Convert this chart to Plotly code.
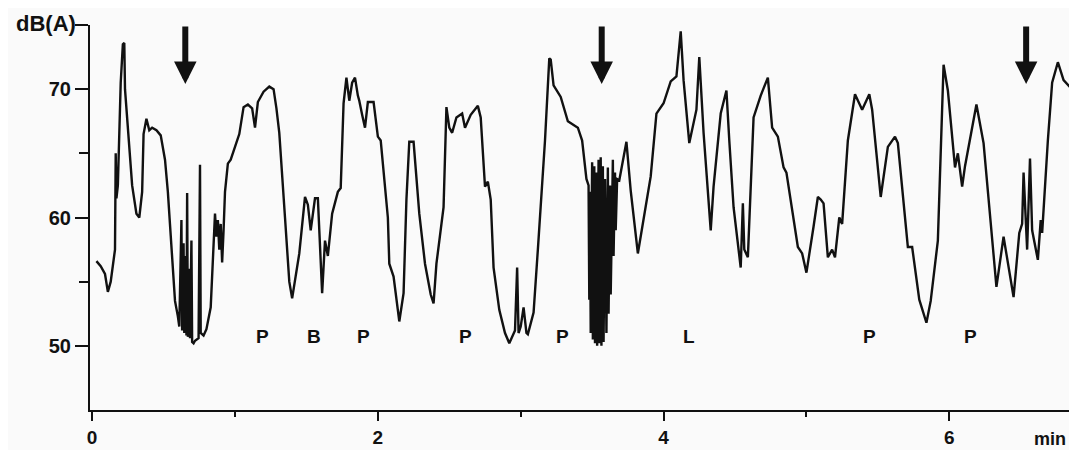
import plotly.graph_objects as go

# --- data (time in minutes, level in dB(A)) ---
time_min = [
    0.03, 0.06, 0.09, 0.11, 0.13, 0.16, 0.165, 0.17, 0.18, 0.20, 0.215, 0.225, 0.23, 0.25, 0.28,
    0.31, 0.33, 0.35, 0.36, 0.38, 0.40, 0.42, 0.45, 0.48, 0.51, 0.53, 0.56, 0.58, 0.60,
    0.61, 0.625, 0.63, 0.64, 0.645, 0.655, 0.66, 0.665, 0.67, 0.68, 0.685, 0.695, 0.70, 0.71,
    0.72, 0.745, 0.755, 0.76, 0.78, 0.80, 0.83, 0.86, 0.87, 0.88, 0.89, 0.90, 0.91, 0.92, 0.93,
    0.95, 0.97, 1.00, 1.03, 1.06, 1.09, 1.12, 1.14, 1.16, 1.20, 1.24, 1.27, 1.29, 1.31, 1.35,
    1.38, 1.40, 1.45, 1.49, 1.51, 1.53, 1.56, 1.58, 1.61, 1.63, 1.65, 1.68, 1.72, 1.74, 1.76,
    1.78, 1.80, 1.82, 1.84, 1.86, 1.87, 1.89, 1.91, 1.93, 1.97, 2.00, 2.02, 2.07, 2.08, 2.11,
    2.15, 2.18, 2.20, 2.22, 2.25, 2.29, 2.33, 2.37, 2.39, 2.41, 2.46, 2.48, 2.50, 2.52, 2.55,
    2.59, 2.61, 2.65, 2.70, 2.72, 2.75, 2.77, 2.79, 2.81, 2.85, 2.89, 2.92, 2.96, 2.975, 2.985,
    3.00, 3.02, 3.04, 3.05, 3.09, 3.12, 3.17, 3.20, 3.21, 3.23, 3.28, 3.33, 3.40, 3.43, 3.46,
    3.475, 3.48, 3.485, 3.49, 3.50, 3.505, 3.515, 3.52, 3.53, 3.535, 3.545, 3.55, 3.56, 3.565,
    3.575, 3.58, 3.59, 3.60, 3.61, 3.615, 3.625, 3.63, 3.645, 3.65, 3.66, 3.665, 3.675, 3.69,
    3.74, 3.77, 3.82, 3.86, 3.91, 3.95, 4.00, 4.05, 4.09, 4.12, 4.14, 4.18, 4.23, 4.25, 4.28,
    4.33, 4.35, 4.40, 4.44, 4.46, 4.49, 4.54, 4.555, 4.565, 4.59, 4.63, 4.68, 4.73, 4.76, 4.80,
    4.84, 4.86, 4.94, 4.97, 5.00, 5.05, 5.08, 5.10, 5.12, 5.15, 5.18, 5.20, 5.23, 5.25, 5.29,
    5.34, 5.39, 5.44, 5.46, 5.52, 5.57, 5.62, 5.64, 5.71, 5.74, 5.79, 5.84, 5.87, 5.92, 5.96,
    5.99, 6.04, 6.06, 6.09, 6.11, 6.19, 6.24, 6.33, 6.38, 6.45, 6.49, 6.51, 6.52, 6.545, 6.565,
    6.58, 6.62, 6.64, 6.65, 6.69, 6.72, 6.76, 6.80, 6.85,
]
level_db = [
    56.6, 56.2, 55.6, 54.2, 55.0, 57.5, 65.0, 61.5, 62.5, 70.5, 73.5, 73.6, 70.0, 67.0, 62.5,
    60.3, 60.0, 62.0, 66.5, 67.7, 66.8, 67.0, 66.8, 66.4, 64.5, 62.0, 57.0, 53.5, 52.3,
    51.5, 59.8, 51.2, 58.0, 51.0, 57.0, 50.8, 61.9, 50.7, 56.0, 50.6, 58.2, 50.3, 50.2,
    50.4, 50.6, 64.1, 51.0, 50.8, 51.3, 53.0, 60.3, 58.5, 59.8, 57.5, 59.5, 56.5, 59.0, 62.0,
    64.2, 64.5, 65.5, 66.5, 68.6, 68.8, 68.5, 67.0, 69.0, 69.8, 70.2, 70.0, 68.5, 66.6, 60.0,
    55.0, 53.7, 57.2, 61.6, 61.0, 59.0, 61.5, 61.5, 54.1, 58.2, 57.0, 60.3, 62.0, 62.3, 68.9,
    70.9, 69.1, 70.5, 70.9, 69.5, 69.1, 68.0, 67.0, 69.0, 69.0, 66.3, 66.0, 60.0, 56.4, 55.4,
    51.9, 54.1, 61.4, 65.9, 65.9, 60.3, 56.4, 54.0, 53.3, 56.4, 60.8, 68.6, 67.0, 66.6, 67.8,
    68.1, 67.0, 68.0, 68.7, 67.8, 62.4, 62.8, 61.4, 56.1, 52.8, 51.0, 50.2, 51.2, 56.1, 51.0,
    51.5, 53.0, 51.0, 50.9, 52.6, 57.5, 66.0, 72.4, 72.3, 70.3, 69.4, 67.5, 67.0, 66.0, 63.0,
    62.5, 53.6, 62.0, 51.0, 64.3, 50.5, 64.0, 50.2, 63.5, 50.0, 64.5, 50.2, 64.7, 50.0,
    64.0, 50.3, 63.0, 51.0, 63.9, 52.5, 62.5, 54.0, 64.5, 57.0, 63.5, 59.0, 63.0, 62.9,
    65.9, 62.1, 57.2, 60.0, 63.2, 68.1, 68.9, 70.6, 71.0, 74.5, 70.7, 65.8, 68.4, 72.5, 66.6,
    59.0, 62.4, 68.1, 69.9, 66.0, 60.8, 56.1, 61.1, 57.5, 56.9, 67.8, 69.5, 70.9, 67.0, 66.3,
    63.9, 63.5, 57.7, 57.2, 55.7, 59.3, 61.6, 61.4, 61.1, 56.9, 57.5, 56.9, 60.0, 59.5, 66.0,
    69.6, 68.4, 69.6, 68.4, 61.6, 65.5, 66.3, 65.8, 57.7, 57.7, 53.6, 51.8, 53.5, 58.2, 71.9,
    69.9, 63.9, 65.0, 62.4, 64.0, 68.8, 65.8, 54.6, 58.5, 53.8, 58.8, 59.5, 63.5, 57.5, 64.6,
    59.0, 56.7, 59.8, 58.8, 66.0, 70.5, 72.1, 70.7, 70.1,
]

label_text = ["P", "B", "P", "P", "P", "L", "P", "P"]
label_time = [1.19, 1.55, 1.90, 2.61, 3.29, 4.18, 5.44, 6.15]
label_level = 50.7

arrow_time = [0.652, 3.567, 6.538]
arrow_tip_db = 70.4
arrow_top_db = 75.0

x_major = [0, 2, 4, 6]
x_minor = [1, 3, 5]
y_major = [50, 60, 70, 75]
y_major_text = ["50", "60", "70", ""]
y_minor = [55, 65]
y_unit = "dB(A)"
x_unit = "min"

FONT = "Liberation Sans"
INK = "#111111"

fig = go.Figure()
fig.add_trace(go.Scatter(
    x=time_min, y=level_db, mode="lines",
    line=dict(color=INK, width=2.4),
    hoverinfo="skip", showlegend=False,
))

annotations = []
for t, s in zip(label_time, label_text):
    annotations.append(dict(
        x=t, y=label_level, xref="x", yref="y", text=s, showarrow=False,
        font=dict(family=FONT, size=19, color=INK, weight="bold"),
    ))
for t in arrow_time:
    annotations.append(dict(
        x=t, y=arrow_tip_db, xref="x", yref="y",
        ax=t, ay=arrow_top_db, axref="x", ayref="y",
        showarrow=True, arrowhead=2, arrowsize=0.75, arrowwidth=6,
        arrowcolor=INK, text="",
    ))
# unit labels
annotations.append(dict(
    x=0, y=75, xref="paper", yref="y", xanchor="right", yanchor="middle",
    xshift=-12, yshift=2, text=y_unit, showarrow=False,
    font=dict(family=FONT, size=22, color=INK, weight="bold"),
))
annotations.append(dict(
    x=1.0, y=0, xref="paper", yref="paper", xanchor="right", yanchor="top",
    xshift=-7, yshift=-17, text=x_unit, showarrow=False,
    font=dict(family=FONT, size=18, color=INK, weight="bold"),
))

# page body has an 8px default margin: size the figure so it fits the 1077x450 window
fig.update_layout(
    width=1069, height=442,
    margin=dict(l=82, r=2, t=17, b=40),
    paper_bgcolor="#fafafa", plot_bgcolor="#fafafa",
    annotations=annotations,
    xaxis=dict(
        range=[-0.015, 6.88], showgrid=False, zeroline=False, automargin=False,
        showline=True, linecolor=INK, linewidth=2,
        ticks="outside", ticklen=9, tickwidth=2, tickcolor=INK,
        tickvals=x_major, ticktext=[str(v) for v in x_major],
        tickfont=dict(family=FONT, size=19, color=INK, weight="bold"),
        minor=dict(tickvals=x_minor, ticks="outside", ticklen=5, tickwidth=2, tickcolor=INK),
    ),
    yaxis=dict(
        range=[45, 75], showgrid=False, zeroline=False, automargin=False,
        showline=True, linecolor=INK, linewidth=2,
        ticks="outside", ticklen=13, tickwidth=2, tickcolor=INK,
        tickvals=y_major, ticktext=y_major_text,
        tickfont=dict(family=FONT, size=20, color=INK, weight="bold"),
        minor=dict(tickvals=y_minor, ticks="outside", ticklen=9, tickwidth=2, tickcolor=INK),
    ),
)

fig.write_html("out.html")
